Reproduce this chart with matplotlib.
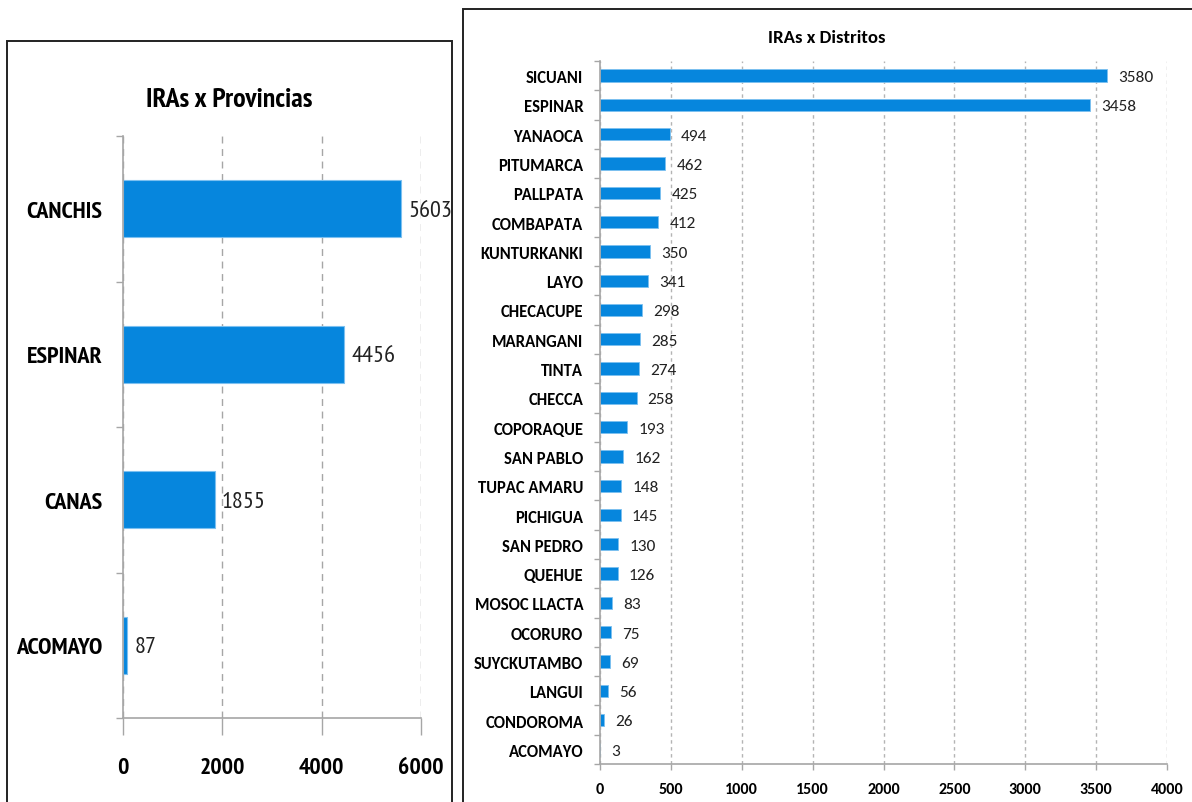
import matplotlib
matplotlib.use('Agg')
import matplotlib.pyplot as plt
from matplotlib.patches import Rectangle
import numpy as np

# datos: provincias
provincias = ['CANCHIS', 'ESPINAR', 'CANAS', 'ACOMAYO']
iras_prov = [5603, 4456, 1855, 87]

# datos: distritos
distritos = ['SICUANI', 'ESPINAR', 'YANAOCA', 'PITUMARCA', 'PALLPATA', 'COMBAPATA',
             'KUNTURKANKI', 'LAYO', 'CHECACUPE', 'MARANGANI', 'TINTA', 'CHECCA',
             'COPORAQUE', 'SAN PABLO', 'TUPAC AMARU', 'PICHIGUA', 'SAN PEDRO', 'QUEHUE',
             'MOSOC LLACTA', 'OCORURO', 'SUYCKUTAMBO', 'LANGUI', 'CONDOROMA', 'ACOMAYO']
iras_dist = [3580, 3458, 494, 462, 425, 412, 350, 341, 298, 285, 274, 258,
             193, 162, 148, 145, 130, 126, 83, 75, 69, 56, 26, 3]

ticks_prov = [0, 2000, 4000, 6000]
ticks_dist = [0, 500, 1000, 1500, 2000, 2500, 3000, 3500, 4000]

AZUL = '#0686DD'
BORDE = '#7CC0F0'
GRIS = '#A6A6A6'
NARROW = ['PT Sans Narrow', 'Roboto Condensed', 'Liberation Sans', 'DejaVu Sans']
CALIBRI = ['Carlito', 'Liberation Sans', 'DejaVu Sans']

W, H = 1192, 803
fig = plt.figure(figsize=(W / 100, H / 100), dpi=100)

# marcos de los paneles
fig.patches.append(Rectangle((7 / W, -0.05), (452 - 7) / W, 1 - 42 / H + 0.05,
                             transform=fig.transFigure, fill=False, ec='#222222', lw=1.4))
fig.patches.append(Rectangle((463 / W, -0.05), 1.1, 1 - 10 / H + 0.05,
                             transform=fig.transFigure, fill=False, ec='#222222', lw=1.4))


def estilo_ejes(ax, n):
    for s in ['top', 'right']:
        ax.spines[s].set_visible(False)
    for s in ['left', 'bottom']:
        ax.spines[s].set_color(GRIS)
        ax.spines[s].set_linewidth(1.2)
    ax.set_ylim(n - 0.5, -0.5)
    ax.set_yticks(np.arange(n))
    ax.set_yticks(np.arange(n + 1) - 0.5, minor=True)
    ax.tick_params(axis='y', which='major', length=0)
    ax.tick_params(axis='y', which='minor', length=5, color=GRIS, width=1)
    ax.set_axisbelow(True)


# --- panel izquierdo ---
ax1 = fig.add_axes([123 / W, 1 - 719 / H, (421 - 123) / W, (719 - 137) / H])
ax1.barh(range(len(provincias)), iras_prov, height=0.39, color=AZUL, edgecolor=BORDE, lw=0.8)
estilo_ejes(ax1, len(provincias))
ax1.set_xlim(0, 6000)
ax1.set_xticks(ticks_prov)
ax1.set_xticklabels([str(t) for t in ticks_prov], family=NARROW, weight='bold', fontsize=17)
ax1.set_yticklabels(provincias, family=NARROW, weight='bold', fontsize=17.5)
ax1.tick_params(axis='x', length=12, color=GRIS, width=1, pad=16)
ax1.tick_params(axis='y', pad=15)
ax1.grid(axis='x', color=GRIS, linestyle=(0, (5, 4)), lw=1)
for i, v in enumerate(iras_prov):
    ax1.annotate(str(v), (v, i), xytext=(5, -1), textcoords='offset points',
                 va='center', ha='left', family=NARROW, fontsize=17.5, color='#222222')
fig.text(229 / W, 1 - 100 / H, 'IRAs x Provincias', ha='center', va='center',
         family=NARROW, weight='bold', fontsize=20)

# --- panel derecho ---
ax2 = fig.add_axes([600 / W, 1 - 765 / H, (1167 - 600) / W, (765 - 62) / H])
ax2.barh(range(len(distritos)), iras_dist, height=0.42, color=AZUL, edgecolor=BORDE, lw=0.6)
estilo_ejes(ax2, len(distritos))
ax2.tick_params(axis='y', which='minor', length=4)
ax2.set_xlim(0, 4000)
ax2.set_xticks(ticks_dist)
ax2.set_xticklabels([str(t) for t in ticks_dist], family=CALIBRI, weight='bold', fontsize=11.5)
ax2.set_yticklabels(distritos, family=CALIBRI, weight='bold', fontsize=12)
ax2.tick_params(axis='x', length=4, color=GRIS, width=1, pad=9)
ax2.tick_params(axis='y', pad=12)
ax2.grid(axis='x', color='#B4B4B4', linestyle=(0, (2.5, 2.5)), lw=1)
for i, v in enumerate(iras_dist):
    ax2.annotate(str(v), (v, i), xytext=(8, -1), textcoords='offset points',
                 va='center', ha='left', family=CALIBRI, fontsize=12.5, color='#222222')
fig.text(827 / W, 1 - 38 / H, 'IRAs x Distritos', ha='center', va='center',
         family=CALIBRI, weight='bold', fontsize=13.5)

fig.savefig('out.png', dpi=100, facecolor='white')
